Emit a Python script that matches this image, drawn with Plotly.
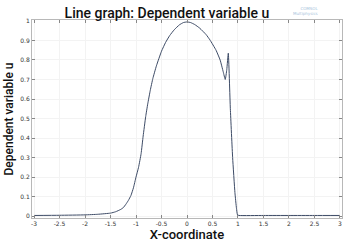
import plotly.graph_objects as go

x_vals = [-3.0, -2.5, -2.0, -1.75, -1.5, -1.4, -1.3, -1.25, -1.2, -1.15, -1.1, -1.05,
          -1.0, -0.95, -0.9, -0.86, -0.81, -0.77, -0.72, -0.67, -0.6, -0.5, -0.42,
          -0.34, -0.25, -0.15, -0.07, 0.0, 0.07, 0.15, 0.25, 0.375, 0.45, 0.57, 0.65,
          0.71, 0.75, 0.78, 0.81, 0.85, 0.895, 0.94, 0.97, 0.99, 1.02, 1.5, 2.0, 2.5, 3.0]
u_vals = [0.003, 0.004, 0.006, 0.009, 0.015, 0.022, 0.034, 0.043, 0.06, 0.08, 0.105, 0.145,
          0.2, 0.25, 0.32, 0.41, 0.51, 0.575, 0.645, 0.705, 0.77, 0.845, 0.89,
          0.925, 0.955, 0.98, 0.992, 0.995, 0.992, 0.982, 0.963, 0.93, 0.903, 0.85, 0.80,
          0.74, 0.70, 0.75, 0.835, 0.55, 0.30, 0.12, 0.04, 0.006, 0.003, 0.003, 0.003, 0.003, 0.003]

x_ticks = [-3, -2.5, -2, -1.5, -1, -0.5, 0, 0.5, 1, 1.5, 2, 2.5, 3]
y_ticks = [0, 0.1, 0.2, 0.3, 0.4, 0.5, 0.6, 0.7, 0.8, 0.9, 1]

fig = go.Figure()
fig.add_trace(go.Scatter(x=x_vals, y=u_vals, mode="lines",
                         line=dict(color="#3d4b66", width=1, shape="spline", smoothing=0.4),
                         showlegend=False))

axis_common = dict(showline=True, linecolor="#b8b8b8", linewidth=1, mirror="ticks",
                   ticks="inside", ticklen=3, tickcolor="#888888",
                   showgrid=True, gridcolor="#f3f3f3", zeroline=False,
                   tickfont=dict(family="DejaVu Sans", size=6, color="#333333"))

fig.update_layout(
    width=350, height=243,
    margin=dict(l=32, r=7, t=20, b=19),
    paper_bgcolor="white", plot_bgcolor="white",
    title=dict(text="Line graph: Dependent variable u", x=0.477, xanchor="center",
               y=0.945, yanchor="middle",
               font=dict(family="Roboto", size=14, color="#111111", weight=500)),
    xaxis=dict(range=[-3.04, 3.04], tickvals=x_ticks, ticktext=[str(v) for v in x_ticks],
               title=dict(text="X-coordinate", standoff=0,
                          font=dict(family="Roboto", size=13, color="#111111", weight=500)),
               **axis_common),
    yaxis=dict(range=[-0.01, 1.005], tickvals=y_ticks, ticktext=[str(v) for v in y_ticks],
               title=dict(text="Dependent variable u", standoff=4,
                          font=dict(family="Roboto", size=12, color="#111111", weight=500)),
               **axis_common),
)
fig.add_annotation(text="COMSOL<br>Multiphysics", xref="paper", yref="paper",
                   x=0.93, y=1.08, showarrow=False, align="right",
                   font=dict(family="DejaVu Sans", size=4, color="#a8c4dc"))
fig.write_html("out.html")
